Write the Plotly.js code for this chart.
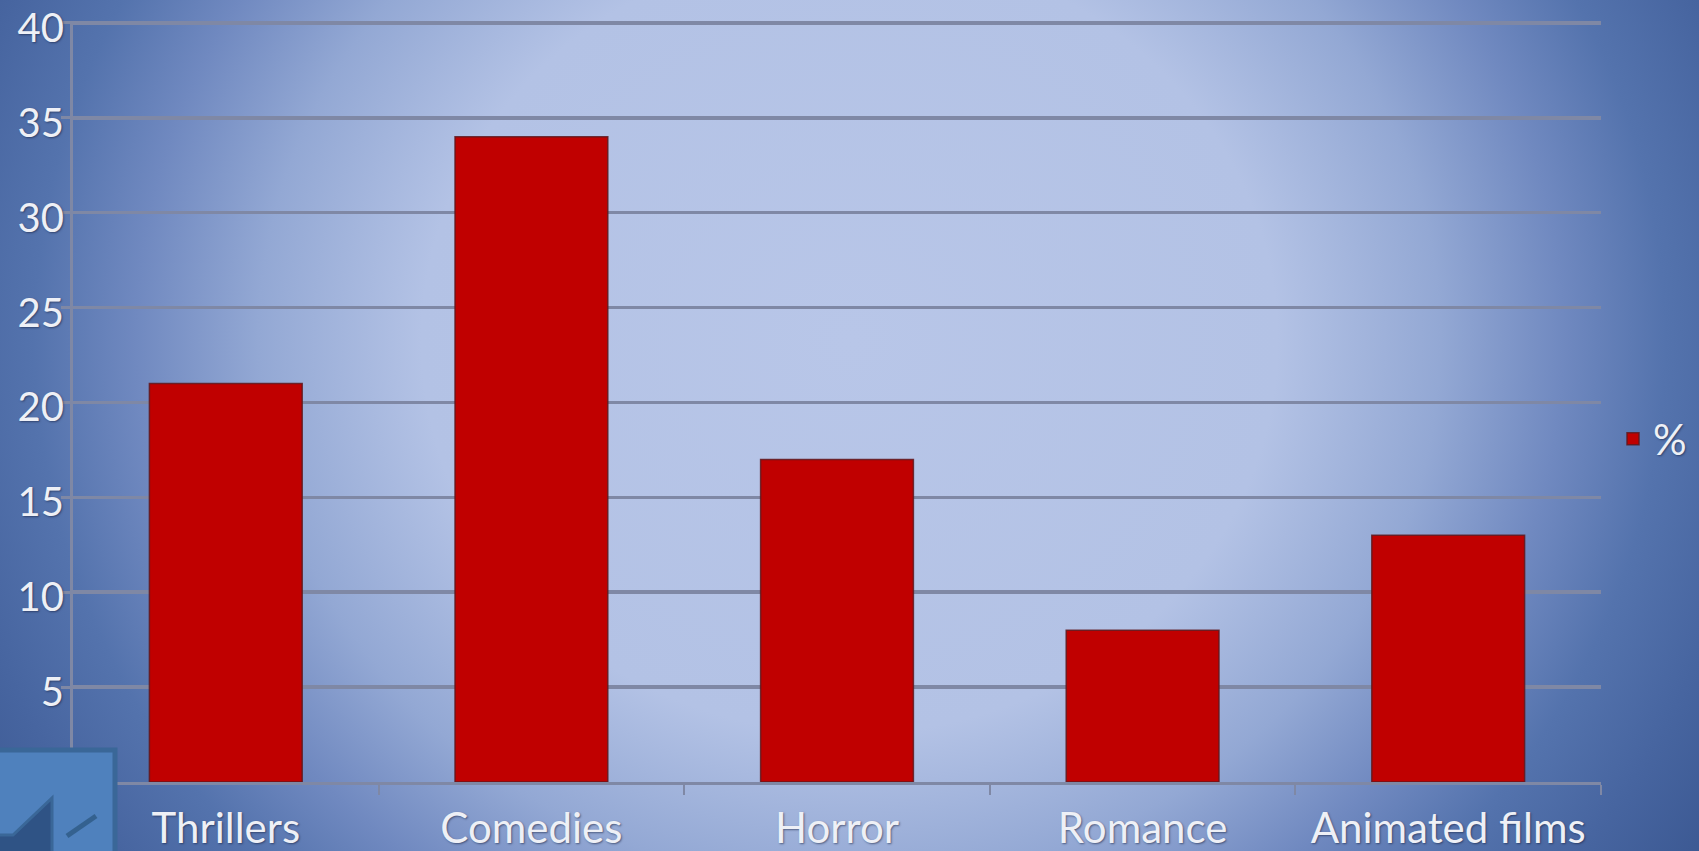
<!DOCTYPE html>
<html>
<head>
<meta charset="utf-8">
<script src="https://cdn.plot.ly/plotly-3.0.1.min.js"></script>
<style>
  html, body { margin: 0; padding: 0; width: 1699px; height: 851px; overflow: hidden; }
  body {
    background: radial-gradient(ellipse 1019px 936px at 50% 40%,
      #b8c6e8 0%, #b3c2e5 42%, #93a8d4 58%, #7089c0 70%, #5473ad 80%, #4765a0 90%, #3c5993 100%);
  }
  #chart { width: 1699px; height: 851px; }
</style>
</head>
<body>
<div id="chart"></div>
<script>
// ---- data ----
const categories = ["Thrillers", "Comedies", "Horror", "Romance", "Animated films"];
const percentValues = [21, 34, 17, 8, 13];
const seriesName = "%";
const yTickValues = [5, 10, 15, 20, 25, 30, 35, 40];

// ---- layout helpers ----
const W = 1699, H = 851;
const M = { l: 73, r: 98, t: 21, b: 69, autoexpand: false };
const PW = W - M.l - M.r, PH = H - M.t - M.b;
const px = v => (v - M.l) / PW;
const py = v => (H - M.b - v) / PH;

const FAMILY = "Lato, 'Open Sans', sans-serif";
const SHADOW = "1px 1px 2px rgba(20,30,60,0.55)";
const textFont = { family: FAMILY, size: 42, color: "#eef0f6", shadow: SHADOW };
const yFont = { family: FAMILY, size: 40, color: "#eef0f6", shadow: SHADOW };
const gridCol = "#7f88a5";

const trace = {
  type: "bar",
  x: categories,
  y: percentValues,
  name: seriesName,
  marker: { color: "#c00000", line: { color: "rgba(95,25,30,0.85)", width: 1.5 } },
  hoverinfo: "x+y"
};

const iconPath = "M " + px(-5) + " " + py(835) +
  " L " + px(13) + " " + py(835) +
  " L " + px(52) + " " + py(798) +
  " L " + px(52) + " " + py(860) +
  " L " + px(-5) + " " + py(860) + " Z";

const layout = {
  width: W, height: H,
  margin: M,
  paper_bgcolor: "rgba(0,0,0,0)",
  plot_bgcolor: "rgba(0,0,0,0)",
  bargap: 0.5,
  showlegend: true,
  legend: {
    x: px(1613), y: py(439), xanchor: "left", yanchor: "middle",
    font: textFont, bgcolor: "rgba(0,0,0,0)", borderwidth: 0
  },
  xaxis: {
    type: "category",
    automargin: false,
    showgrid: false,
    showline: true, linecolor: gridCol, linewidth: 3,
    ticks: "outside", tickson: "boundaries", ticklen: 10, tickwidth: 2, tickcolor: gridCol,
    tickfont: textFont,
    ticklabelstandoff: 8,
    ticklabeloverflow: "allow",
    fixedrange: true
  },
  yaxis: {
    automargin: false,
    range: [0, 40.1],
    tickvals: yTickValues,
    showgrid: true, gridcolor: gridCol, gridwidth: 3.5,
    showline: true, linecolor: gridCol, linewidth: 3,
    ticks: "outside", ticklen: 9, tickwidth: 3, tickcolor: gridCol,
    tickfont: yFont,
    ticklabelstandoff: -11,
    ticklabelshift: 5,
    ticklabeloverflow: "allow",
    zeroline: false,
    fixedrange: true
  },
  shapes: [
    { type: "rect", xref: "paper", yref: "paper", layer: "above",
      x0: px(-5), x1: px(115), y0: py(860), y1: py(750),
      fillcolor: "#4f81bd", line: { color: "#3a6798", width: 5 } },
    { type: "path", xref: "paper", yref: "paper", layer: "above",
      path: iconPath, fillcolor: "#2f5385", line: { color: "#3a6798", width: 3 } },
    { type: "line", xref: "paper", yref: "paper", layer: "above",
      x0: px(67), y0: py(836), x1: px(96), y1: py(816),
      line: { color: "#34618f", width: 5 } }
  ]
};

Plotly.newPlot("chart", [trace], layout, { displayModeBar: false, staticPlot: true });
</script>
</body>
</html>
